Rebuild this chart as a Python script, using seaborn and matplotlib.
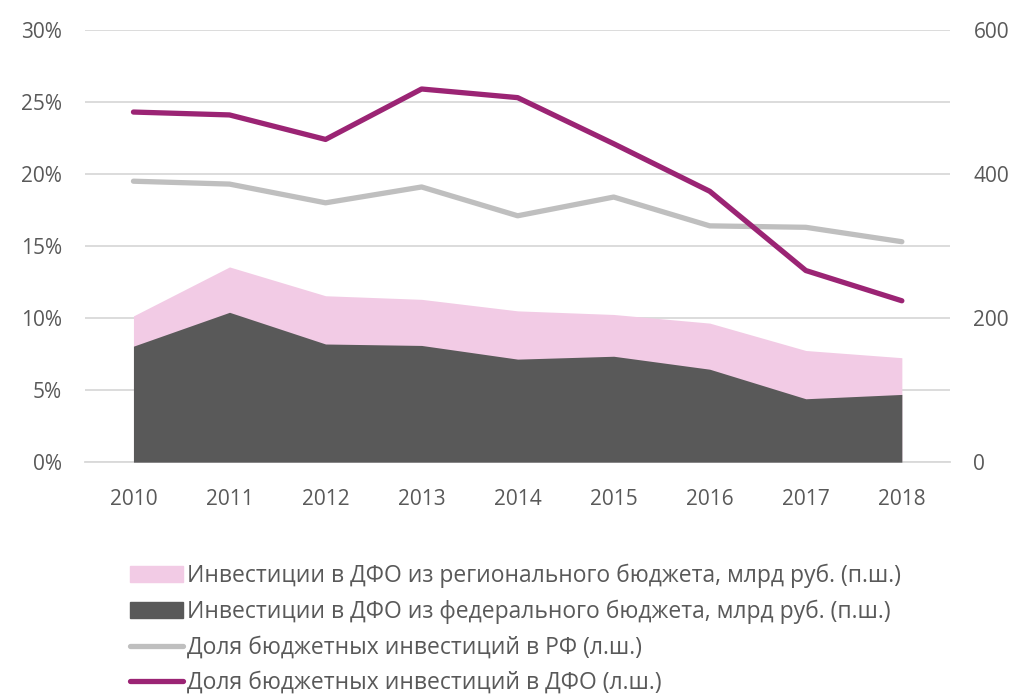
import matplotlib
matplotlib.use('Agg')
import matplotlib.pyplot as plt
import seaborn as sns
import pandas as pd
from matplotlib.patches import Patch
from matplotlib.lines import Line2D

years = ['2010', '2011', '2012', '2013', '2014', '2015', '2016', '2017', '2018']
federal = [161, 208, 164, 162, 143, 147, 129, 88, 94]
regional = [42, 63, 67, 64, 67, 58, 64, 67, 51]
share_rf = [19.5, 19.3, 18.0, 19.1, 17.1, 18.4, 16.4, 16.3, 15.3]
share_dfo = [24.3, 24.1, 22.4, 25.9, 25.3, 22.1, 18.8, 13.3, 11.2]

labels = ['Инвестиции в ДФО из регионального бюджета, млрд руб. (п.ш.)',
          'Инвестиции в ДФО из федерального бюджета, млрд руб. (п.ш.)',
          'Доля бюджетных инвестиций в РФ (л.ш.)',
          'Доля бюджетных инвестиций в ДФО (л.ш.)']

c_pink = '#f2cbe5'
c_dark = '#595959'
c_grey = '#bfbfbf'
c_purple = '#9b2474'
c_text = '#595959'

sns.set_theme(style='white')
plt.rcParams['font.family'] = ['Open Sans', 'DejaVu Sans']

df = pd.DataFrame({'year': years, 'x': range(len(years)), 'federal': federal,
                   'regional': regional, 'rf': share_rf, 'dfo': share_dfo})
df['total'] = df['federal'] + df['regional']

fig = plt.figure(figsize=(10.17, 6.96), dpi=100)
ax = fig.add_axes([0.084, 0.336, 0.85, 0.621])

# areas on the right scale
ax.fill_between(df['x'], 0, df['total'], color=c_pink, lw=0, zorder=2)
ax.fill_between(df['x'], 0, df['federal'], color=c_dark, lw=0, zorder=3)
ax.set_ylim(0, 600)
ax.grid(axis='y', color='#d9d9d9', lw=1.3, zorder=0)
ax.set_axisbelow(True)

# lines on the left scale
ax2 = ax.twinx()
sns.lineplot(data=df, x='x', y='rf', ax=ax2, color=c_grey, lw=3.8,
             solid_capstyle='round')
sns.lineplot(data=df, x='x', y='dfo', ax=ax2, color=c_purple, lw=3.8,
             solid_capstyle='round')
ax2.set_ylim(0, 30)
ax2.set_yticks(range(0, 31, 5))
ax2.set_yticklabels([f'{v}%' for v in range(0, 31, 5)])
ax2.yaxis.tick_left()

ax.yaxis.tick_right()
ax.set_yticks(range(0, 601, 100))
ax.set_yticklabels(['0', '', '200', '', '400', '', '600'])

for a in (ax, ax2):
    a.set_xlim(-0.5, 8.5)
    a.set_xlabel('')
    a.set_ylabel('')
    for s in a.spines.values():
        s.set_visible(False)
    a.tick_params(length=0, labelsize=15, labelcolor=c_text)
ax.spines['bottom'].set_visible(True)
ax.spines['bottom'].set_color('#d9d9d9')
ax.spines['bottom'].set_linewidth(1.3)
ax.set_xticks(df['x'])
ax.set_xticklabels(years)
ax.tick_params(axis='x', pad=19)
ax.tick_params(axis='y', pad=17)
ax2.tick_params(axis='y', pad=17)

handles = [Patch(color=c_pink), Patch(color=c_dark),
           Line2D([], [], color=c_grey, lw=3.8, solid_capstyle='round'),
           Line2D([], [], color=c_purple, lw=3.8, solid_capstyle='round')]
fig.legend(handles, labels, loc='upper left', bbox_to_anchor=(0.128, 0.19),
           frameon=False, fontsize=16.5, labelcolor=c_text, handlelength=2.3,
           handleheight=0.65, handletextpad=0.2, labelspacing=0.5,
           borderaxespad=0, borderpad=0)

fig.savefig('out.png', dpi=100)
